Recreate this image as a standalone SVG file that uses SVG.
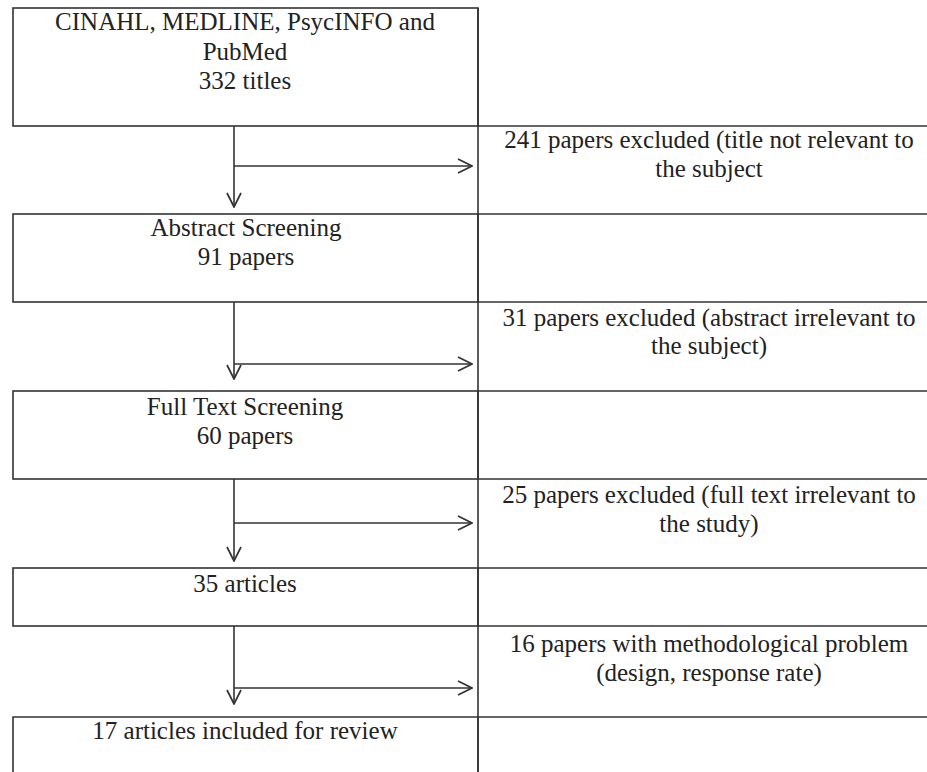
<svg xmlns="http://www.w3.org/2000/svg" width="927" height="772" viewBox="0 0 927 772">
<defs>
<style>
.box{fill:none;stroke:#333;stroke-width:1.6}
.ln{fill:none;stroke:#333;stroke-width:1.6}
.arr{fill:none;stroke:#333;stroke-width:1.6;marker-end:url(#head)}
text{font-family:"Liberation Serif","Times New Roman",serif;font-size:25px;fill:#222;text-anchor:middle}
</style>
<marker id="head" viewBox="0 0 16 16" refX="15" refY="8" markerWidth="16" markerHeight="16" markerUnits="userSpaceOnUse" orient="auto">
<path d="M1,1 L15,8 L1,15" fill="none" stroke="#333" stroke-width="1.7"/>
</marker>
</defs>
<rect width="927" height="772" fill="#fff"/>
<g id="grid">
<line class="ln" x1="478" y1="8" x2="478" y2="772"/>
<line class="ln" x1="478" y1="126" x2="927" y2="126"/>
<line class="ln" x1="478" y1="214" x2="927" y2="214"/>
<line class="ln" x1="478" y1="302" x2="927" y2="302"/>
<line class="ln" x1="478" y1="391" x2="927" y2="391"/>
<line class="ln" x1="478" y1="479" x2="927" y2="479"/>
<line class="ln" x1="478" y1="568" x2="927" y2="568"/>
<line class="ln" x1="478" y1="626" x2="927" y2="626"/>
<line class="ln" x1="478" y1="717" x2="927" y2="717"/>
</g>
<g id="n1">
<rect class="box" x="13" y="8" width="465" height="118"/>
<text x="245" y="30">CINAHL, MEDLINE, PsycINFO and</text>
<text x="245" y="59.5">PubMed</text>
<text x="245" y="89">332 titles</text>
</g>
<g id="n2">
<rect class="box" x="13" y="214" width="465" height="88"/>
<text x="246" y="236">Abstract Screening</text>
<text x="246" y="265">91 papers</text>
</g>
<g id="n3">
<rect class="box" x="13" y="391" width="465" height="88"/>
<text x="245" y="415">Full Text Screening</text>
<text x="245" y="444">60 papers</text>
</g>
<g id="n4">
<rect class="box" x="13" y="568" width="465" height="58"/>
<text x="245" y="592">35 articles</text>
</g>
<g id="n5">
<path class="box" d="M13,772 L13,717 L478,717 L478,772"/>
<text x="245" y="739">17 articles included for review</text>
</g>
<g id="e1">
<text x="709" y="148">241 papers excluded (title not relevant to</text>
<text x="709" y="177">the subject</text>
</g>
<g id="e2">
<text x="709" y="326">31 papers excluded (abstract irrelevant to</text>
<text x="709" y="354">the subject)</text>
</g>
<g id="e3">
<text x="709" y="503">25 papers excluded (full text irrelevant to</text>
<text x="709" y="532">the study)</text>
</g>
<g id="e4">
<text x="709" y="652">16 papers with methodological problem</text>
<text x="709" y="681">(design, response rate)</text>
</g>
<g id="connectors">
<line class="arr" x1="234" y1="126" x2="234" y2="207"/>
<line class="arr" x1="234" y1="166" x2="472" y2="166"/>
<line class="arr" x1="234" y1="302" x2="234" y2="379"/>
<line class="arr" x1="234" y1="364" x2="472" y2="364"/>
<line class="arr" x1="234" y1="479" x2="234" y2="561"/>
<line class="arr" x1="234" y1="523" x2="472" y2="523"/>
<line class="arr" x1="234" y1="626" x2="234" y2="704"/>
<line class="arr" x1="234" y1="688" x2="472" y2="688"/>
</g>
</svg>
